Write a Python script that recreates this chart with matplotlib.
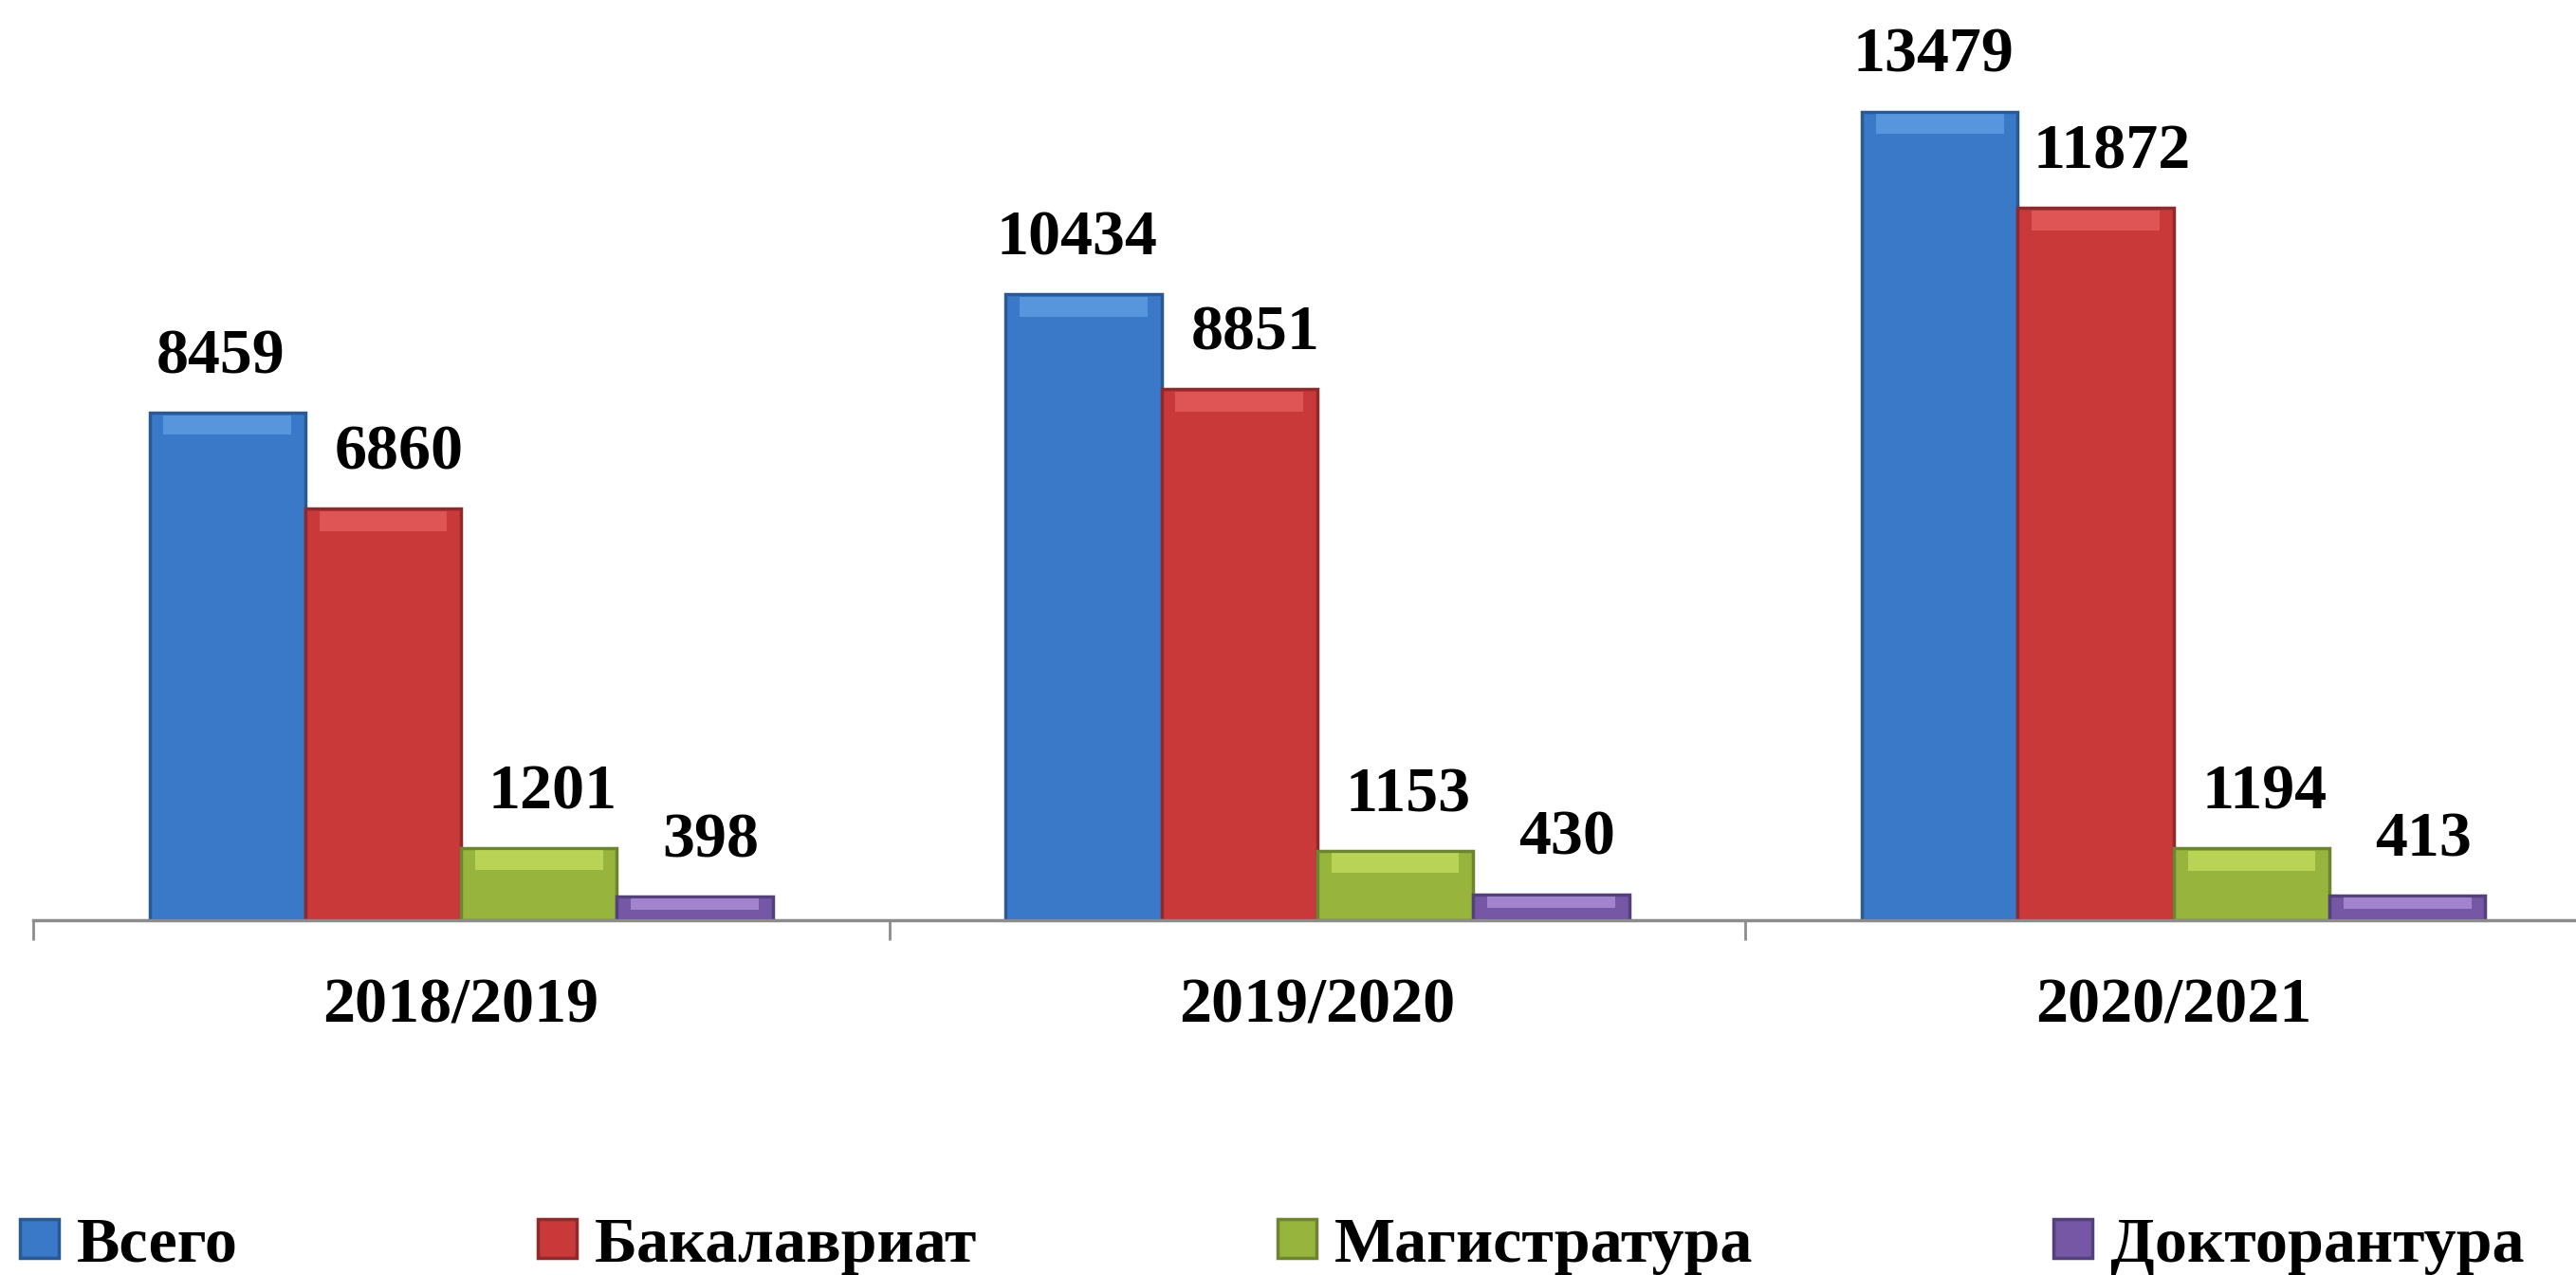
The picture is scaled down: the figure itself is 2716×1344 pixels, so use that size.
import numpy as np
import matplotlib
matplotlib.use("Agg")
import matplotlib.pyplot as plt

plt.rcParams['font.family'] = ['Liberation Serif', 'DejaVu Serif']
plt.rcParams['font.weight'] = 'bold'

years = ["2018/2019", "2019/2020", "2020/2021"]
series = ["Всего", "Бакалавриат", "Магистратура", "Докторантура"]
total = [8459, 10434, 13479]
bachelor = [6860, 8851, 11872]
master = [1201, 1153, 1194]
doctorate = [398, 430, 413]

values = [total, bachelor, master, doctorate]
face = ["#3a78c8", "#c9393a", "#97b53c", "#7657a6"]
edge = ["#2b5991", "#8e2a2c", "#6d8430", "#54407a"]
light = ["#6fb0ef", "#f26d6d", "#d4ec6a", "#c7a8ee"]
label_dx = [-5, 12, 10, 12]  # points

fig = plt.figure(figsize=(27.16, 13.44), dpi=100)
ax = fig.add_axes([0.0128, 0.2784, 0.9972, 0.7216])

x = np.arange(len(years))
w = 0.182
for i, vals in enumerate(values):
    pos = x + (i - 1.5) * w
    ax.bar(pos, vals, w, color=face[i], edgecolor=edge[i], linewidth=2.5,
           label=series[i], zorder=2)
    # glossy top band
    band = [min(330, v * 0.45) for v in vals]
    ax.bar(pos, band, w * 0.82, bottom=[v - b - 40 for v, b in zip(vals, band)],
           color=light[i], alpha=0.55, linewidth=0, zorder=3)
    for p, v in zip(pos, vals):
        ax.annotate(str(v), (p, v), xytext=(label_dx[i], 30), textcoords="offset points",
                    ha="center", va="baseline", fontsize=49, fontweight="bold", color="black")

ax.set_xlim(-0.5, 2.5)
ax.set_ylim(0, 15340)
for s in ["top", "left", "right"]:
    ax.spines[s].set_visible(False)
ax.spines["bottom"].set_color("#8c8c8c")
ax.spines["bottom"].set_linewidth(2.5)
ax.set_yticks([])
ax.set_xticks([-0.5, 0.5, 1.5, 2.5])
ax.set_xticklabels([])
ax.tick_params(axis="x", which="major", length=15, width=2, color="#8c8c8c")
ax.set_xticks(x, minor=True)
ax.set_xticklabels(years, minor=True, fontsize=49, fontweight="bold")
ax.tick_params(axis="x", which="minor", length=0, pad=44)

h = [ax.containers[0], ax.containers[2], ax.containers[4], ax.containers[6]]
fig.legend(h, series, loc="center left", bbox_to_anchor=(0.0077, 0.023), ncol=4,
           frameon=False, fontsize=49, handlelength=0.6, handleheight=0.56,
           handletextpad=0.28, columnspacing=4.65, borderaxespad=0, borderpad=0)

fig.savefig("out.png", dpi=100)
